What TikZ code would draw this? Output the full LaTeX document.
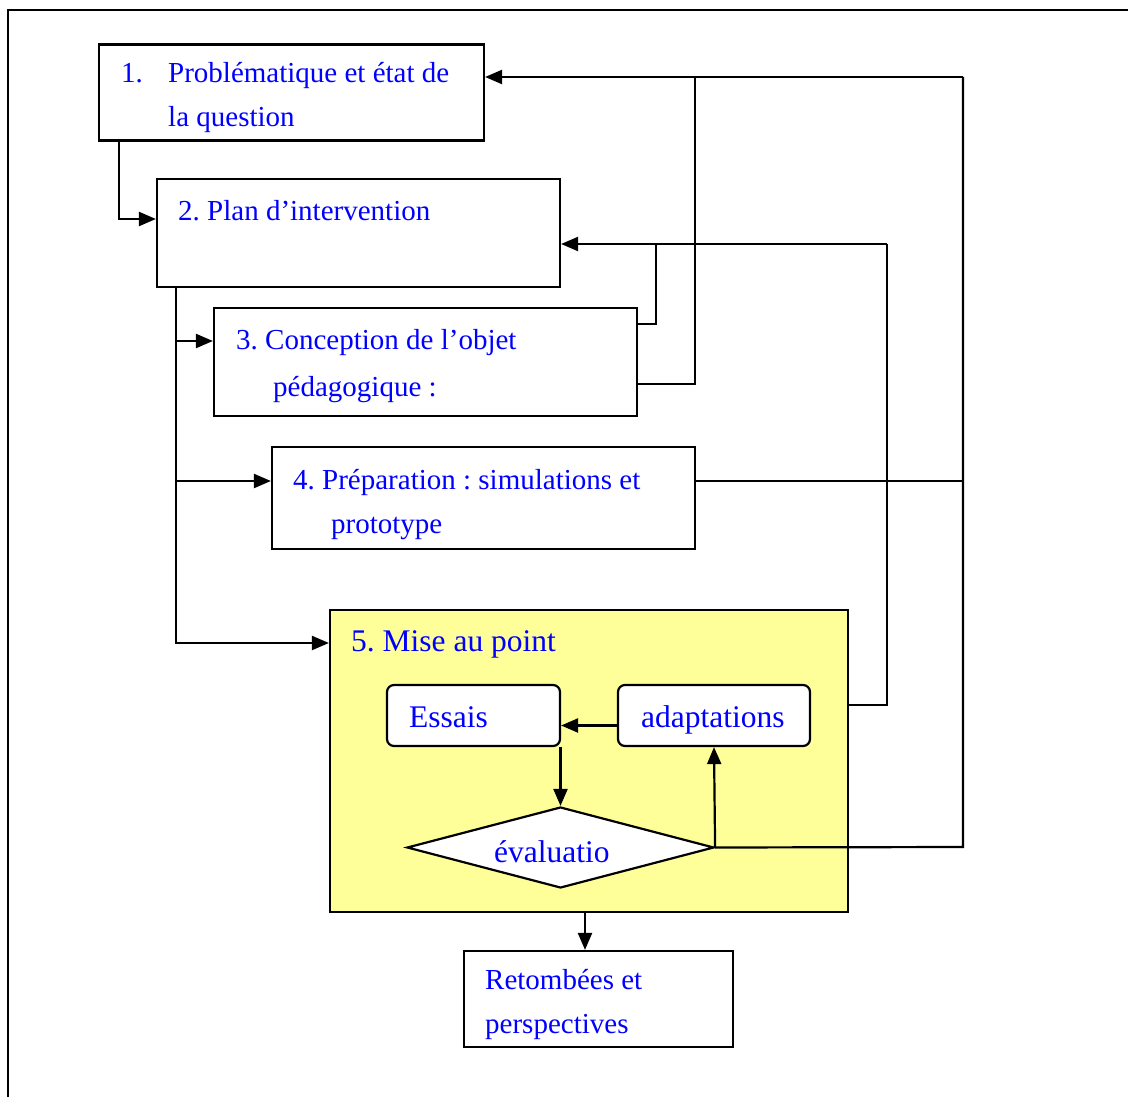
\documentclass[tikz,border=0pt]{standalone}
\usepackage{fontspec}
\setmainfont{Liberation Serif}
\usetikzlibrary{arrows.meta,shapes.geometric}
\definecolor{txtblue}{RGB}{0,0,255}
\definecolor{paleyellow}{RGB}{255,255,153}
\frenchspacing
\begin{document}
\begin{tikzpicture}[x=1pt,y=-1pt,
  box/.style={draw,line width=2.2pt,inner sep=0pt,fill=white},
  rbox/.style={box,rounded corners=7pt},
  txt/.style={anchor=base west,inner sep=0pt,text=txtblue,font=\fontsize{29}{34}\selectfont},
  btxt/.style={txt,font=\fontsize{31.5}{37}\selectfont},
  link/.style={line width=2.2pt},
  arr/.style={link,-{Triangle[length=17pt,width=14pt]}}]
\useasboundingbox (0,0) rectangle (1128,1097);
\draw[line width=2.4pt] (8,10) rectangle (1200,1200);

% boxes
\node[box,minimum width=385pt,minimum height=96pt] (b1) at (291.5,92.5) {};
\node[box,minimum width=403pt,minimum height=108pt] (b2) at (358.5,233) {};
\node[box,minimum width=423pt,minimum height=108pt] (b3) at (425.5,362) {};
\node[box,minimum width=423pt,minimum height=102pt] (b4) at (483.5,498) {};
\node[box,fill=paleyellow,minimum width=518pt,minimum height=302pt] (b5) at (589,761) {};
\node[rbox,minimum width=173pt,minimum height=61pt] (ess) at (473.5,715.5) {};
\node[rbox,minimum width=192pt,minimum height=61pt] (ada) at (714,715.5) {};
\node[box,diamond,minimum width=307pt,minimum height=81pt] (dia) at (560.5,847.5) {};
\node[box,minimum width=269pt,minimum height=96pt] (ret) at (598.5,999) {};

% texts
\node[txt] (t1a) at (121,83) {1.};
\node[txt] (t1b) at (168,83) {Problématique et état de};
\node[txt] (t1c) at (168,127) {la question};
\node[txt] (t2) at (178,220) {2. Plan d’intervention};
\node[txt] (t3a) at (236,349) {3. Conception de l’objet};
\node[txt] (t3b) at (273,396) {pédagogique :};
\node[txt] (t4a) at (293,489) {4. Préparation : simulations et};
\node[txt] (t4b) at (331,533) {prototype};
\node[btxt] (t5) at (351,651) {5. Mise au point};
\node[btxt] (tess) at (409,727) {Essais};
\node[btxt] (tada) at (641,727) {adaptations};
\node[btxt] (tdia) at (494,862) {évaluatio};
\node[txt] (tr1) at (485,989) {Retombées et};
\node[txt] (tr2) at (485,1033) {perspectives};

% left connectors
\coordinate (j1) at (119,219);
\draw[arr] (b1.south -| j1) -- (j1) -- (j1 -| b2.west);
\coordinate (s2) at (176,643);
\coordinate (a3) at (176,341);
\coordinate (a4) at (176,481);
\draw[arr] (b2.south -| s2) -- (s2) -- (s2 -| b5.west);
\draw[arr] (a3) -- (a3 -| b3.west);
\draw[arr] (a4) -- (a4 -| b4.west);

% right connectors
\coordinate (r2) at (887,244);
\coordinate (k3) at (656,324);
\coordinate (k5) at (887,705);
\draw[arr] (r2) -- (r2 -| b2.east);
\draw[link] (k3 -| b3.east) -- (k3) -- (k3 |- r2);
\draw[link] (k5 -| b5.east) -- (k5) -- (r2);

\coordinate (r1) at (963,77);
\coordinate (m1) at (695,77);
\coordinate (k3b) at (695,384);
\coordinate (k4) at (963,481);
\coordinate (kd) at (963,847);
\draw[arr] (r1) -- (r1 -| b1.east);
\draw[link] (k3b -| b3.east) -- (k3b) -- (m1);
\draw[link] (k4 -| b4.east) -- (k4);
\draw[link] (dia.east) -- (kd) -- (r1);

% inner connectors
\draw[arr] ([yshift=-10pt]ada.west) -- ([yshift=-10pt]ess.east);
\draw[arr] (dia.north |- ess.south) -- (dia.north);
\draw[arr] (dia.east) -- (ada.south);

% to result
\coordinate (kr) at (585,930);
\draw[arr] (b5.south -| kr) -- (ret.north -| kr);
\end{tikzpicture}
\end{document}
